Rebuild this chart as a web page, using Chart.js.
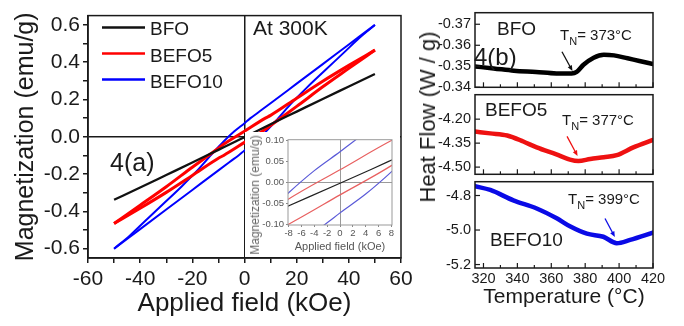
<!DOCTYPE html>
<html><head><meta charset="utf-8">
<script src="https://cdn.jsdelivr.net/npm/chart.js@4.4.1/dist/chart.umd.min.js"></script>
<style>
html,body{margin:0;padding:0;background:#fff;width:684px;height:326px;overflow:hidden;font-family:'Liberation Sans',Arial,sans-serif;}
canvas{position:absolute;}
.t{position:absolute;white-space:nowrap;line-height:1;color:#1a1a1a;font-family:'Liberation Sans',Arial,sans-serif;}
.t sub{font-size:11px;vertical-align:-5px;line-height:0;}
#insetBox{position:absolute;left:245px;top:132px;width:155px;height:125px;overflow:hidden;background:#fff;}
</style></head><body>
<canvas id="main" width="420" height="326" style="left:0;top:0"></canvas>
<div id="insetBox">
  <canvas id="inset" width="155" height="125" style="left:0;top:0"></canvas>
  <div class="t" style="left:10px;top:63px;font-size:12px;color:#666;transform:translate(-50%,-50%) rotate(-90deg);">Magnetization (emu/g)</div>
</div>
<canvas id="r1" width="264" height="100" style="left:420px;top:0"></canvas>
<canvas id="r2" width="264" height="105" style="left:420px;top:82px"></canvas>
<canvas id="r3" width="264" height="157" style="left:420px;top:169px"></canvas>

<div class="t" style="left:253px;top:17px;font-size:21px;">At 300K</div>
<div class="t" style="left:110px;top:150px;font-size:25px;">4(a)</div>
<div class="t" style="left:428px;top:117px;font-size:22px;transform:translate(-50%,-50%) rotate(-90deg);">Heat Flow (W / g)</div>
<div class="t" style="left:497px;top:19px;font-size:19px;">BFO</div>
<div class="t" style="left:474px;top:45px;font-size:24px;">4(b)</div>
<div class="t" style="left:485px;top:100px;font-size:19px;">BEFO5</div>
<div class="t" style="left:490px;top:230px;font-size:19px;">BEFO10</div>
<div class="t" style="left:560px;top:27px;font-size:15px;">T<sub>N</sub>= 373°C</div>
<div class="t" style="left:562px;top:112px;font-size:15px;">T<sub>N</sub>= 377°C</div>
<div class="t" style="left:568px;top:191px;font-size:15px;">T<sub>N</sub>= 399°C</div>

<script>
// ---------- Data: M–H loops at 300 K ----------
const fieldBFO = [-50, -40, -30, -20, -10, -5, 0, 5, 10, 20, 30, 40, 50];
const magBFO   = [-0.338, -0.272, -0.205, -0.138, -0.070, -0.036, -0.002, 0.032, 0.067, 0.135, 0.203, 0.270, 0.337];

// BEFO5 descending branch (upper) and ascending branch (lower)
const fieldDown5 = [-50, -40, -30, -20, -10, -8, 0, 8, 10, 20, 30, 40, 50];
const magDown5   = [-0.465, -0.367, -0.268, -0.163, -0.061, -0.040, 0.030, 0.100, 0.115, 0.207, 0.298, 0.383, 0.465];
const fieldUp5   = [-50, -40, -30, -20, -10, -8, 0, 8, 10, 20, 30, 40, 50];
const magUp5     = [-0.465, -0.383, -0.298, -0.207, -0.115, -0.100, -0.030, 0.040, 0.061, 0.163, 0.268, 0.367, 0.465];

// BEFO10 descending branch (upper) and ascending branch (lower)
const fieldDown10 = [-50, -44, -38, -31, -24, -17.7, -12, -8, -4, 0, 2.3, 5, 10, 20, 30, 40, 44, 50];
const magDown10   = [-0.60, -0.53, -0.45, -0.358, -0.265, -0.175, -0.085, -0.025, 0.028, 0.073, 0.10, 0.128, 0.18, 0.285, 0.39, 0.495, 0.537, 0.60];
const fieldUp10   = [-50, -44, -40, -30, -20, -10, -5, -2.3, 0, 4, 8, 12, 17.7, 24, 31, 38, 44, 50];
const magUp10     = [-0.60, -0.537, -0.495, -0.39, -0.285, -0.18, -0.128, -0.10, -0.073, -0.028, 0.025, 0.085, 0.175, 0.265, 0.358, 0.45, 0.53, 0.60];

const fieldTicks = [-60, -50, -40, -30, -20, -10, 0, 10, 20, 30, 40, 50, 60];
const magTicks   = [-0.6, -0.5, -0.4, -0.3, -0.2, -0.1, 0, 0.1, 0.2, 0.3, 0.4, 0.5, 0.6];
const insetFieldTicks = [-8, -6, -4, -2, 0, 2, 4, 6, 8];
const insetMagTicks   = [-0.10, -0.05, 0, 0.05, 0.10];

// ---------- Data: DSC heat flow ----------
const tempBFO = [315, 326, 338, 351, 363, 372, 375, 379, 385, 391, 397, 405, 412, 420];
const heatBFO = [-0.3499, -0.3490, -0.3479, -0.3473, -0.3466, -0.3466, -0.3473, -0.3507, -0.3541, -0.3555, -0.3552, -0.3538, -0.3525, -0.3511];
const tempBEFO5 = [315, 324, 334, 343.5, 351.4, 363, 371, 376, 383, 391, 398.6, 408.4, 420];
const heatBEFO5 = [-4.2775, -4.289, -4.302, -4.340, -4.377, -4.421, -4.453, -4.462, -4.449, -4.438, -4.425, -4.377, -4.330];
const tempBEFO10 = [315, 324, 337.6, 351.4, 363.2, 371, 381, 390.7, 398.6, 406.5, 420];
const heatBEFO10 = [-4.746, -4.768, -4.828, -4.875, -4.932, -4.978, -5.021, -5.039, -5.076, -5.057, -5.015];

const tempTicks = [320, 340, 360, 380, 400, 420];
const tempMinorTicks = [320, 330, 340, 350, 360, 370, 380, 390, 400, 410, 420];
const heatTicksBFO = [-0.37, -0.36, -0.35, -0.34];
const heatTicksBEFO5 = [-4.20, -4.35, -4.50];
const heatTicksBEFO10 = [-4.8, -5.0, -5.2];

// ---------- helpers ----------
const FONT = "'Liberation Sans', Arial, sans-serif";
const TXT = '#1a1a1a';
const pts = (xs, ys) => xs.map((x, i) => ({x, y: ys[i]}));

const framePlugin = {
  id: 'frame',
  afterDraw(chart, args, opts) {
    const {ctx, chartArea: a} = chart;
    ctx.save();
    ctx.strokeStyle = opts.color || '#1a1a1a';
    ctx.lineWidth = opts.width || 1.5;
    ctx.strokeRect(a.left, a.top, a.right - a.left, a.bottom - a.top);
    ctx.restore();
  }
};

const innerTicks = {
  id: 'innerTicks',
  afterDraw(chart, args, opts) {
    const {ctx, chartArea: a, scales} = chart;
    ctx.save();
    ctx.strokeStyle = '#1a1a1a';
    ctx.lineWidth = 1.2;
    (opts.x || []).forEach(v => {
      const px = scales.x.getPixelForValue(v);
      ctx.beginPath(); ctx.moveTo(px, a.bottom); ctx.lineTo(px, a.bottom - (v % 20 === 0 ? 5 : 3)); ctx.stroke();
    });
    (opts.y || []).forEach(v => {
      const py = scales.y.getPixelForValue(v);
      ctx.beginPath(); ctx.moveTo(a.left, py); ctx.lineTo(a.left + 5, py); ctx.stroke();
    });
    ctx.restore();
  }
};

const arrowPlugin = {
  id: 'arrow',
  afterDatasetsDraw(chart, args, opts) {
    if (!opts.from) return;
    const {ctx, scales: {x, y}} = chart;
    const x0 = x.getPixelForValue(opts.from[0]), y0 = y.getPixelForValue(opts.from[1]);
    const x1 = x.getPixelForValue(opts.to[0]), y1 = y.getPixelForValue(opts.to[1]);
    const ang = Math.atan2(y1 - y0, x1 - x0), h = 6;
    ctx.save();
    ctx.strokeStyle = opts.color; ctx.fillStyle = opts.color; ctx.lineWidth = 1.3;
    ctx.beginPath(); ctx.moveTo(x0, y0); ctx.lineTo(x1 - Math.cos(ang) * h * 0.8, y1 - Math.sin(ang) * h * 0.8); ctx.stroke();
    ctx.beginPath();
    ctx.moveTo(x1, y1);
    ctx.lineTo(x1 - h * Math.cos(ang - 0.4), y1 - h * Math.sin(ang - 0.4));
    ctx.lineTo(x1 - h * Math.cos(ang + 0.4), y1 - h * Math.sin(ang + 0.4));
    ctx.closePath(); ctx.fill();
    ctx.restore();
  }
};

const lineLegend = {
  id: 'lineLegend',
  afterDraw(chart, args, opts) {
    const ctx = chart.ctx;
    const items = chart.data.datasets.filter(d => d.inLegend);
    ctx.save();
    items.forEach((d, i) => {
      const yLine = opts.lineY[i], yText = opts.textY[i];
      ctx.strokeStyle = d.borderColor; ctx.lineWidth = 2.5;
      ctx.beginPath(); ctx.moveTo(opts.x0, yLine); ctx.lineTo(opts.x1, yLine); ctx.stroke();
      ctx.fillStyle = TXT; ctx.font = '19px ' + FONT; ctx.textBaseline = 'alphabetic';
      ctx.fillText(d.label, opts.tx, yText);
    });
    ctx.restore();
  }
};

// ---------- Main M-H chart ----------
function loopDatasets(thin) {
  const w = thin ? 1.2 : null;
  return [
    {label: 'BFO', inLegend: true, data: pts(fieldBFO, magBFO), borderColor: thin ? '#222' : '#111', borderWidth: w || 2.3},
    {label: 'BEFO5', inLegend: true, data: pts(fieldDown5, magDown5), borderColor: thin ? '#e86060' : '#ff0000', borderWidth: w || 3},
    {label: 'BEFO5 up', data: pts(fieldUp5, magUp5), borderColor: thin ? '#e86060' : '#ff0000', borderWidth: w || 3},
    {label: 'BEFO10', inLegend: true, data: pts(fieldDown10, magDown10), borderColor: thin ? '#5a5ad8' : '#0000ff', borderWidth: w || 2},
    {label: 'BEFO10 up', data: pts(fieldUp10, magUp10), borderColor: thin ? '#5a5ad8' : '#0000ff', borderWidth: w || 2}
  ].map(d => Object.assign(d, {showLine: true, pointRadius: 0, fill: false, tension: 0.25, cubicInterpolationMode: 'monotone'}));
}

new Chart(document.getElementById('main'), {
  type: 'scatter',
  data: {datasets: loopDatasets(false)},
  plugins: [framePlugin, lineLegend],
  options: {
    responsive: false, animation: false, devicePixelRatio: 1,
    layout: {padding: {top: 5, right: 19, left: 0, bottom: 0}},
    plugins: {
      legend: {display: false}, tooltip: {enabled: false},
      frame: {color: '#1a1a1a', width: 1.5},
      lineLegend: {x0: 102, x1: 145, tx: 150, lineY: [27.5, 53.5, 79.5], textY: [35, 61.5, 87.5]}
    },
    scales: {
      x: {
        type: 'linear', min: -60, max: 60,
        afterBuildTicks: s => { s.ticks = fieldTicks.map(v => ({value: v})); },
        afterFit: s => { s.height = 68; },
        ticks: {font: {size: 21, family: FONT}, color: TXT, padding: 4, maxRotation: 0, autoSkip: false,
                callback: v => (v % 20 === 0 ? String(v) : '')},
        grid: {drawOnChartArea: true, color: c => (c.tick && c.tick.value === 0 ? '#1a1a1a' : 'rgba(0,0,0,0)'),
               lineWidth: 1.5, tickColor: '#1a1a1a', tickLength: 5, tickWidth: 1.5},
        border: {display: true, color: '#1a1a1a', width: 1.5},
        title: {display: true, text: 'Applied field (kOe)', color: TXT, font: {size: 26, family: FONT}, padding: {top: 7, bottom: 7}}
      },
      y: {
        type: 'linear', min: -0.65, max: 0.65,
        afterBuildTicks: s => { s.ticks = magTicks.map(v => ({value: v})); },
        afterFit: s => { s.width = 88; },
        ticks: {font: {size: 21, family: FONT}, color: TXT, padding: 3, autoSkip: false,
                callback: v => (Math.round(v * 10) % 2 === 0 ? v.toFixed(1) : '')},
        grid: {drawOnChartArea: true, color: c => (c.tick && Math.abs(c.tick.value) < 1e-9 ? '#1a1a1a' : 'rgba(0,0,0,0)'),
               lineWidth: 1.5, tickColor: '#1a1a1a', tickLength: 5, tickWidth: 1.5},
        border: {display: true, color: '#1a1a1a', width: 1.5},
        title: {display: true, text: 'Magnetization (emu/g)', color: TXT, font: {size: 25, family: FONT}, padding: {top: 11, bottom: 11}}
      }
    }
  }
});

// ---------- Inset (zoom near origin) ----------
new Chart(document.getElementById('inset'), {
  type: 'scatter',
  data: {datasets: loopDatasets(true)},
  plugins: [framePlugin],
  options: {
    responsive: false, animation: false, devicePixelRatio: 1,
    layout: {padding: {top: 6, right: 8, left: 0, bottom: 0}},
    plugins: {legend: {display: false}, tooltip: {enabled: false}, frame: {color: '#999', width: 1}},
    scales: {
      x: {
        type: 'linear', min: -8.1, max: 8.1,
        afterBuildTicks: s => { s.ticks = insetFieldTicks.map(v => ({value: v})); },
        afterFit: s => { s.height = 32; },
        ticks: {font: {size: 9.5, family: FONT}, color: '#555', padding: 1, maxRotation: 0, autoSkip: false},
        grid: {drawOnChartArea: true, color: c => (c.tick && c.tick.value === 0 ? '#9a9a9a' : 'rgba(0,0,0,0)'),
               lineWidth: 1, tickColor: '#888', tickLength: 2},
        border: {display: false},
        title: {display: true, text: 'Applied field (kOe)', color: '#555', font: {size: 11, family: FONT}, padding: {top: 0, bottom: 3}}
      },
      y: {
        type: 'linear', min: -0.102, max: 0.102,
        afterBuildTicks: s => { s.ticks = insetMagTicks.map(v => ({value: v})); },
        afterFit: s => { s.width = 43; },
        ticks: {font: {size: 9.5, family: FONT}, color: '#555', padding: 2, autoSkip: false, callback: v => v.toFixed(2)},
        grid: {drawOnChartArea: true, color: c => (c.tick && Math.abs(c.tick.value) < 1e-9 ? '#9a9a9a' : 'rgba(0,0,0,0)'),
               lineWidth: 1, tickColor: '#888', tickLength: 2},
        border: {display: false}
      }
    }
  }
});

// ---------- DSC panels ----------
function dscChart(id, temps, vals, color, yMin, yMax, yTicks, digits, reverse, padTop, padBottom, isBottom, arrow) {
  return new Chart(document.getElementById(id), {
    type: 'line',
    data: {datasets: [{data: pts(temps, vals), borderColor: color, borderWidth: 4.5, pointRadius: 0,
                       fill: false, cubicInterpolationMode: 'monotone', borderCapStyle: 'round', borderJoinStyle: 'round'}]},
    plugins: [framePlugin, innerTicks, arrowPlugin],
    options: {
      responsive: false, animation: false, devicePixelRatio: 1,
      layout: {padding: {top: padTop, right: 31, left: 0, bottom: padBottom}},
      plugins: {legend: {display: false}, tooltip: {enabled: false},
                frame: {color: '#1a1a1a', width: 1.5},
                innerTicks: {x: tempMinorTicks, y: yTicks},
                arrow: arrow},
      scales: {
        x: {
          type: 'linear', min: 315, max: 420, display: isBottom,
          afterBuildTicks: s => { s.ticks = tempTicks.map(v => ({value: v})); },
          afterFit: s => { s.height = isBottom ? 58 : 0; },
          ticks: {font: {size: 14.5, family: FONT}, color: TXT, padding: 2, maxRotation: 0, autoSkip: false},
          grid: {display: false, drawTicks: false, tickLength: 0},
          border: {display: false},
          title: {display: isBottom, text: 'Temperature (°C)', color: TXT, font: {size: 21, family: FONT}, padding: {top: 0, bottom: 16}}
        },
        y: {
          type: 'linear', min: yMin, max: yMax, reverse: reverse,
          afterBuildTicks: s => { s.ticks = yTicks.map(v => ({value: v})); },
          afterFit: s => { s.width = 55; },
          ticks: {font: {size: 14.5, family: FONT}, color: TXT, padding: 4, autoSkip: false, callback: v => v.toFixed(digits)},
          grid: {display: false, drawTicks: false, tickLength: 0},
          border: {display: false}
        }
      }
    }
  });
}

dscChart('r1', tempBFO, heatBFO, '#000000', -0.3755, -0.34, heatTicksBFO, 2, true, 5, 9, false,
         {from: [366.3, -0.3569], to: [372.5, -0.3478], color: '#111'});
dscChart('r2', tempBEFO5, heatBEFO5, '#ee1111', -4.545, -4.047, heatTicksBEFO5, 2, false, 9, 9, false,
         {from: [369.3, -4.3075], to: [375.5, -4.43], color: '#ee1111'});
dscChart('r3', tempBEFO10, heatBEFO10, '#0a0ae6', -5.22, -4.72, heatTicksBEFO10, 1, false, 9, 0, true,
         {from: [391.7, -4.933], to: [397.5, -5.04], color: '#0a0ae6'});
</script>
</body></html>
